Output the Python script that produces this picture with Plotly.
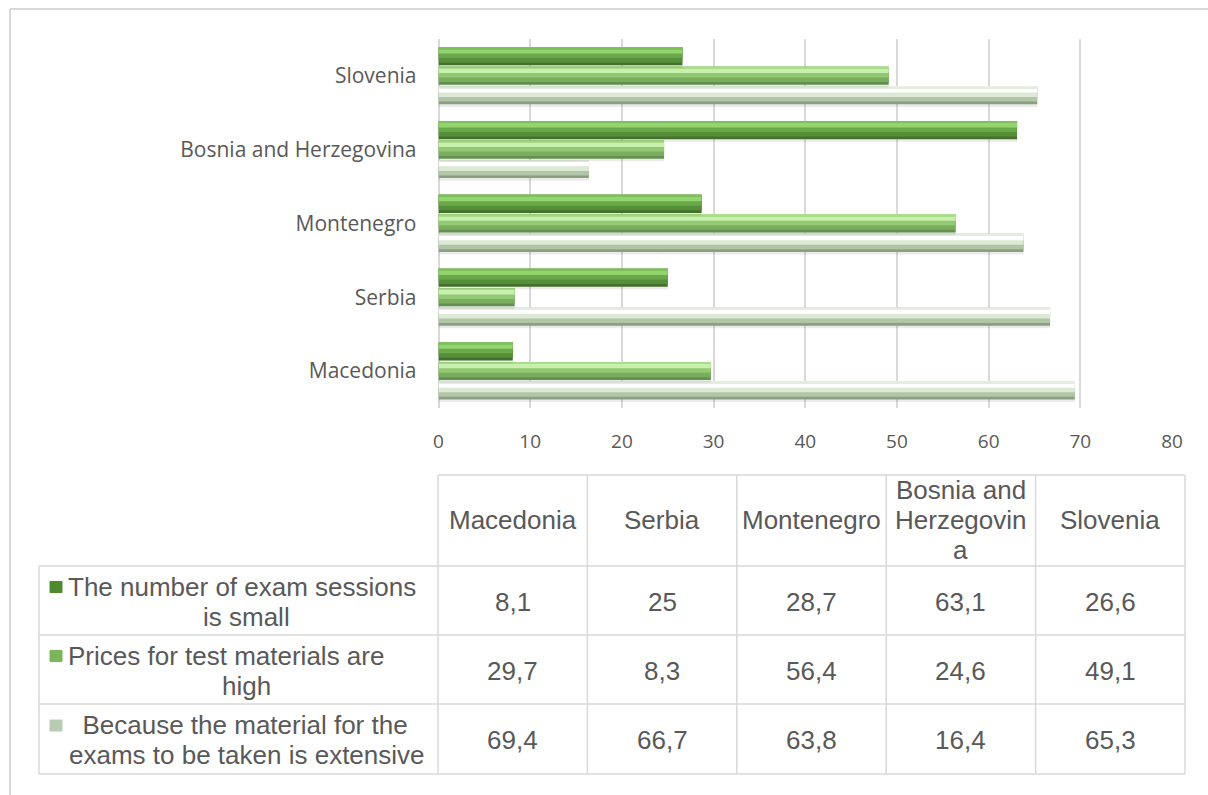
import plotly.graph_objects as go

# ---------------- data ----------------
categories = ["Macedonia", "Serbia", "Montenegro", "Bosnia and Herzegovina", "Slovenia"]
header_labels = ["Macedonia", "Serbia", "Montenegro", "Bosnia and<br>Herzegovin<br>a", "Slovenia"]

series_names = [
    "The number of exam sessions is small",
    "Prices for test materials are high",
    "Because the material for the exams to be taken is extensive",
]
row_labels = [
    "The number of exam sessions<br>is small",
    "Prices for test materials are<br>high",
    "  Because the material for the<br>exams to be taken is extensive",
]
sessions = [8.1, 25, 28.7, 63.1, 26.6]
prices = [29.7, 8.3, 56.4, 24.6, 49.1]
extensive = [69.4, 66.7, 63.8, 16.4, 65.3]
series_values = [sessions, prices, extensive]

x_ticks = [0, 10, 20, 30, 40, 50, 60, 70, 80]

# ---------------- style ----------------
W, H = 1208, 795
TXT = "#595959"
GRID = "#d9d9d9"
bands = [
    [(0.0, "#44702c"), (0.15, "#568f3a"), (0.40, "#6aa84a"), (0.65, "#92d46e"), (0.90, "#7fbf5c")],
    [(0.0, "#62904f"), (0.15, "#7aae5e"), (0.40, "#93c974"), (0.65, "#c6f0ab"), (0.90, "#a9dd8a")],
    [(0.0, "#8aa081"), (0.15, "#b2c5a9"), (0.40, "#dce9d5"), (0.65, "#ffffff"), (0.90, "#e4eedf")],
]
marker_colors = ["#4f8a2f", "#7cb65a", "#b9ccb1"]
bar_w = 0.245
slot_offsets = [0.143, -0.121, -0.385]   # sessions on top, extensive at bottom

fig = go.Figure()

for si in [2, 1, 0]:
    vals = series_values[si]
    off = slot_offsets[si]
    fig.add_trace(go.Bar(
        y=categories, x=vals, orientation="h",
        offset=off - 0.035, width=bar_w,
        marker=dict(color="rgba(0,0,0,0.08)", line=dict(width=0)),
        showlegend=False, hoverinfo="skip",
    ))
    for k, (f0, col) in enumerate(bands[si]):
        fig.add_trace(go.Bar(
            y=categories, x=vals, orientation="h",
            offset=off + f0 * bar_w, width=(1 - f0) * bar_w,
            marker=dict(color=col, line=dict(width=0)),
            name=series_names[si], showlegend=False,
            hoverinfo="skip" if k else "x+name",
        ))

px_l, px_r, px_t, px_b = 438.5, 1172, 39, 408

fig.update_layout(
    width=W, height=H,
    margin=dict(l=0, r=0, t=0, b=0, autoexpand=False),
    paper_bgcolor="white", plot_bgcolor="white",
    barmode="overlay",
    showlegend=False,
    xaxis=dict(
        domain=[px_l / W, px_r / W], range=[0, 80], tickvals=x_ticks,
        showgrid=True, gridcolor=GRID, gridwidth=1.5,
        zeroline=True, zerolinecolor=GRID, zerolinewidth=1.5,
        showline=False, ticks="", automargin=False,
        tickfont=dict(family="Open Sans", size=19, color=TXT),
        ticklabelstandoff=20,
    ),
    yaxis=dict(
        domain=[1 - px_b / H, 1 - px_t / H], type="category",
        categoryorder="array", categoryarray=categories, range=[-0.5, 4.5],
        showgrid=False, zeroline=False, showline=False, ticks="", automargin=False,
        tickfont=dict(family="Open Sans", size=21, color=TXT),
        ticklabelstandoff=21,
    ),
)

# ---------------- data table ----------------
col_edges = [438, 587.4, 736.8, 886.2, 1035.6, 1185]
label_left = 39
row_edges = [475, 566, 635, 704, 774]
LINE = 30

shapes = []
def pline(x0, y0, x1, y1, color=GRID, width=1.5):
    shapes.append(dict(type="line", xref="paper", yref="paper",
                       x0=x0 / W, x1=x1 / W, y0=1 - y0 / H, y1=1 - y1 / H,
                       line=dict(color=color, width=width)))

def prect(x0, y0, x1, y1, color, lc):
    shapes.append(dict(type="rect", xref="paper", yref="paper",
                       x0=x0 / W, x1=x1 / W, y0=1 - y0 / H, y1=1 - y1 / H,
                       fillcolor=color, line=dict(color=lc, width=1)))

pline(10, 9, W, 9, "#d9d9d9", 2)
pline(10, 9, 10, H, "#d9d9d9", 2)

pline(col_edges[0], row_edges[0], col_edges[-1], row_edges[0])
for x in col_edges:
    pline(x, row_edges[0], x, row_edges[-1])
pline(label_left, row_edges[1], label_left, row_edges[-1])
for y in row_edges[1:]:
    pline(label_left, y, col_edges[-1], y)

annotations = []
FONT = dict(family="Arial, Liberation Sans", size=26, color=TXT)

def ptext(x, y, text, anchor="center"):
    annotations.append(dict(xref="paper", yref="paper", x=x / W, y=1 - y / H,
                            text=text, showarrow=False, font=FONT,
                            xanchor=anchor, yanchor="middle", align=anchor))

def multiline(x, yc, text):
    lines = text.split("<br>")
    n = len(lines)
    for k, ln in enumerate(lines):
        ptext(x, yc + (k - (n - 1) / 2) * LINE, ln)

for j, lab in enumerate(header_labels):
    multiline((col_edges[j] + col_edges[j + 1]) / 2, (row_edges[0] + row_edges[1]) / 2 - 1, lab)

def fmt(v):
    return f"{v:g}".replace(".", ",")

label_cx = (label_left + col_edges[0]) / 2 + 8
for i in range(3):
    yc = (row_edges[i + 1] + row_edges[i + 2]) / 2
    l1, l2 = row_labels[i].split("<br>")
    y1, y2 = yc - LINE / 2 + 1, yc + LINE / 2 + 1
    prect(50, y1 - 5, 62, y1 + 6, marker_colors[i], marker_colors[i])
    ptext(66, y1, l1, anchor="left")
    ptext(label_cx, y2, l2)
    for j, v in enumerate(series_values[i]):
        ptext((col_edges[j] + col_edges[j + 1]) / 2, yc + 1, fmt(v))

fig.update_layout(shapes=shapes, annotations=annotations)

fig.write_html(
    "out.html",
    config={"displayModeBar": False},
    post_script="document.body.style.margin='0';document.body.style.overflow='hidden';",
)
